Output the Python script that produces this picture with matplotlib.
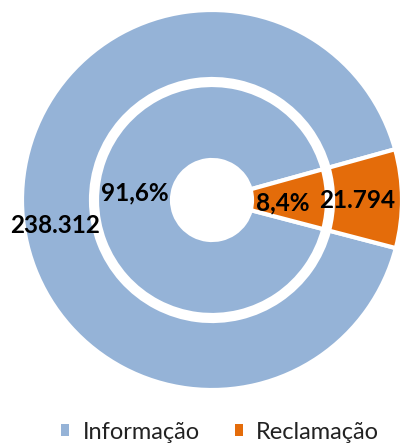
import matplotlib
matplotlib.use("Agg")
import matplotlib.pyplot as plt
from matplotlib.patches import Patch

# data
categories = ["Informação", "Reclamação"]
outer_values = [238312, 21794]
outer_labels = ["238.312", "21.794"]
inner_labels = ["91,6%", "8,4%"]
colors = ["#95B3D7", "#E46C0A"]

plt.rcParams['font.family'] = ['Lato', 'DejaVu Sans']

fig = plt.figure(figsize=(4.17, 4.48), dpi=100)
R = 190.0
cx, cy = 212, 200
ax = fig.add_axes([(cx - R) / 417, (448 - cy - R) / 448, 2 * R / 417, 2 * R / 448])

start = 15.5
ax.pie(outer_values, radius=1.0, colors=colors, startangle=start,
       wedgeprops=dict(width=(190 - 121) / R, edgecolor="white", linewidth=3))
ax.pie(outer_values, radius=115 / R, colors=colors, startangle=start,
       wedgeprops=dict(width=(115 - 40) / R, edgecolor="white", linewidth=3))

# label spots in pixels of the picture
lab_pos = [(55, 225), (357, 200), (135, 193), (283, 203)]
for (x, y), t in zip(lab_pos, outer_labels + inner_labels):
    ax.text((x - cx) / R, (cy - y) / R, t, ha="center", va="center",
            fontsize=17.5, fontweight="bold", color="black")

ax.set_xlim(-1, 1)
ax.set_ylim(-1, 1)
ax.set_aspect("equal")
ax.axis("off")

handles = [Patch(facecolor=c, edgecolor="none") for c in colors]
fig.legend(handles, categories, loc="center", bbox_to_anchor=(0.528, 1 - 432 / 448),
           ncol=2, frameon=False, fontsize=17, handlelength=0.35, handleheight=0.35,
           handletextpad=0.55, columnspacing=1.5, labelcolor="#222222")

fig.savefig("out.png", dpi=100)
